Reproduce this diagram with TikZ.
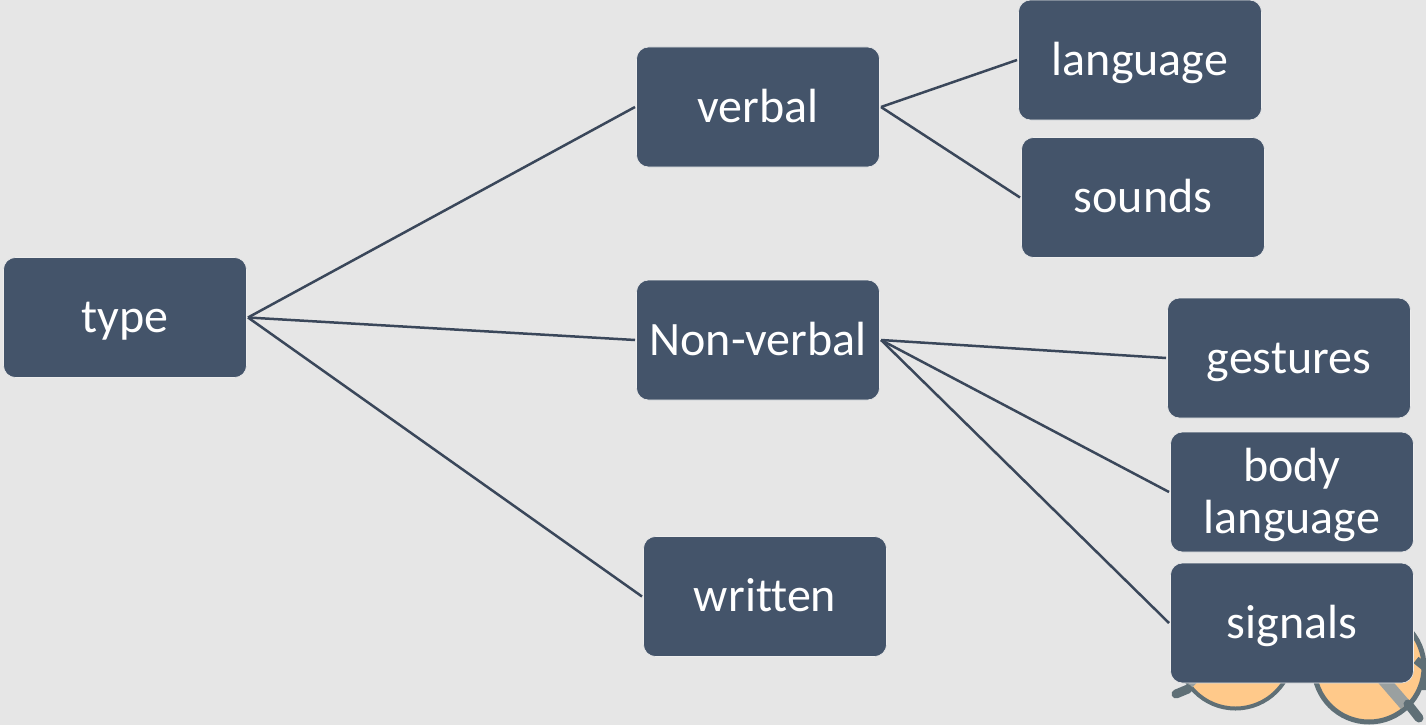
\documentclass[tikz,border=0pt]{standalone}
\usepackage{fontspec}
\setmainfont[Ligatures=NoCommon]{Carlito}
\definecolor{bgc}{HTML}{E6E6E6}
\definecolor{boxc}{HTML}{44546A}
\definecolor{lensc}{HTML}{FFC98A}
\definecolor{rimc}{HTML}{5F6F76}
\definecolor{strapc}{HTML}{9AA0A0}
\tikzset{
  leaf/.style={rectangle,rounded corners=12pt,fill=boxc,draw=bgc!70!white,line width=0.6pt,
    minimum width=243pt,minimum height=120pt,inner sep=0pt,outer sep=1.5pt,text=white,
    align=center,font=\fontsize{48}{52}\selectfont},
  oneline/.style={leaf,text height=41pt,text depth=11pt},
  link/.style={draw=boxc!85!black,line width=2.5pt}
}
\begin{document}
\begin{tikzpicture}[x=1pt,y=-1pt]
\useasboundingbox (0,0) rectangle (1426,725);
\fill[bgc] (0,0) rectangle (1426,725);
\begin{scope}
\clip (0,0) rectangle (1426,725);
% glasses behind the boxes
\draw[rimc,line width=4pt,fill=lensc] (1235.5,651) circle (57.5);
\draw[rimc,line width=5pt,fill=lensc] (1369,667) circle (55);
\begin{scope}
\clip (1369,667) circle (52.5);
\draw[strapc,line width=12pt] (1375,670) -- (1420,722);
\end{scope}
\draw[strapc,line width=5pt] (1190,686) -- (1196,680);
\draw[rimc,line width=9pt,line cap=round] (1176,694) -- (1188,689);
\draw[rimc,line width=9pt,line cap=round] (1408,704) -- (1419,718);
\draw[rimc,line width=8pt] (1416,660) -- (1426,668) -- (1426,690);
\end{scope}
\node[oneline] (type) at (125,317.5) {type};
\node[oneline] (verbal) at (758,107) {verbal};
\node[oneline] (nonverbal) at (758,340) {Non-verbal};
\node[oneline] (written) at (765,596.5) {written};
\node[oneline] (language) at (1140,60) {language};
\node[oneline] (sounds) at (1143,197.5) {sounds};
\node[oneline] (gestures) at (1289,358) {gestures};
\node[leaf] (body) at (1292,492) {\rule{0pt}{41pt}body\\language\rule[-11pt]{0pt}{11pt}};
\node[oneline] (signals) at (1292,623) {signals};
\draw[link] (type.east) -- (verbal.west);
\draw[link] (type.east) -- (nonverbal.west);
\draw[link] (type.east) -- (written.west);
\draw[link] (verbal.east) -- (language.west);
\draw[link] (verbal.east) -- (sounds.west);
\draw[link] (nonverbal.east) -- (gestures.west);
\draw[link] (nonverbal.east) -- (body.west);
\draw[link] (nonverbal.east) -- (signals.west);
\end{tikzpicture}
\end{document}
